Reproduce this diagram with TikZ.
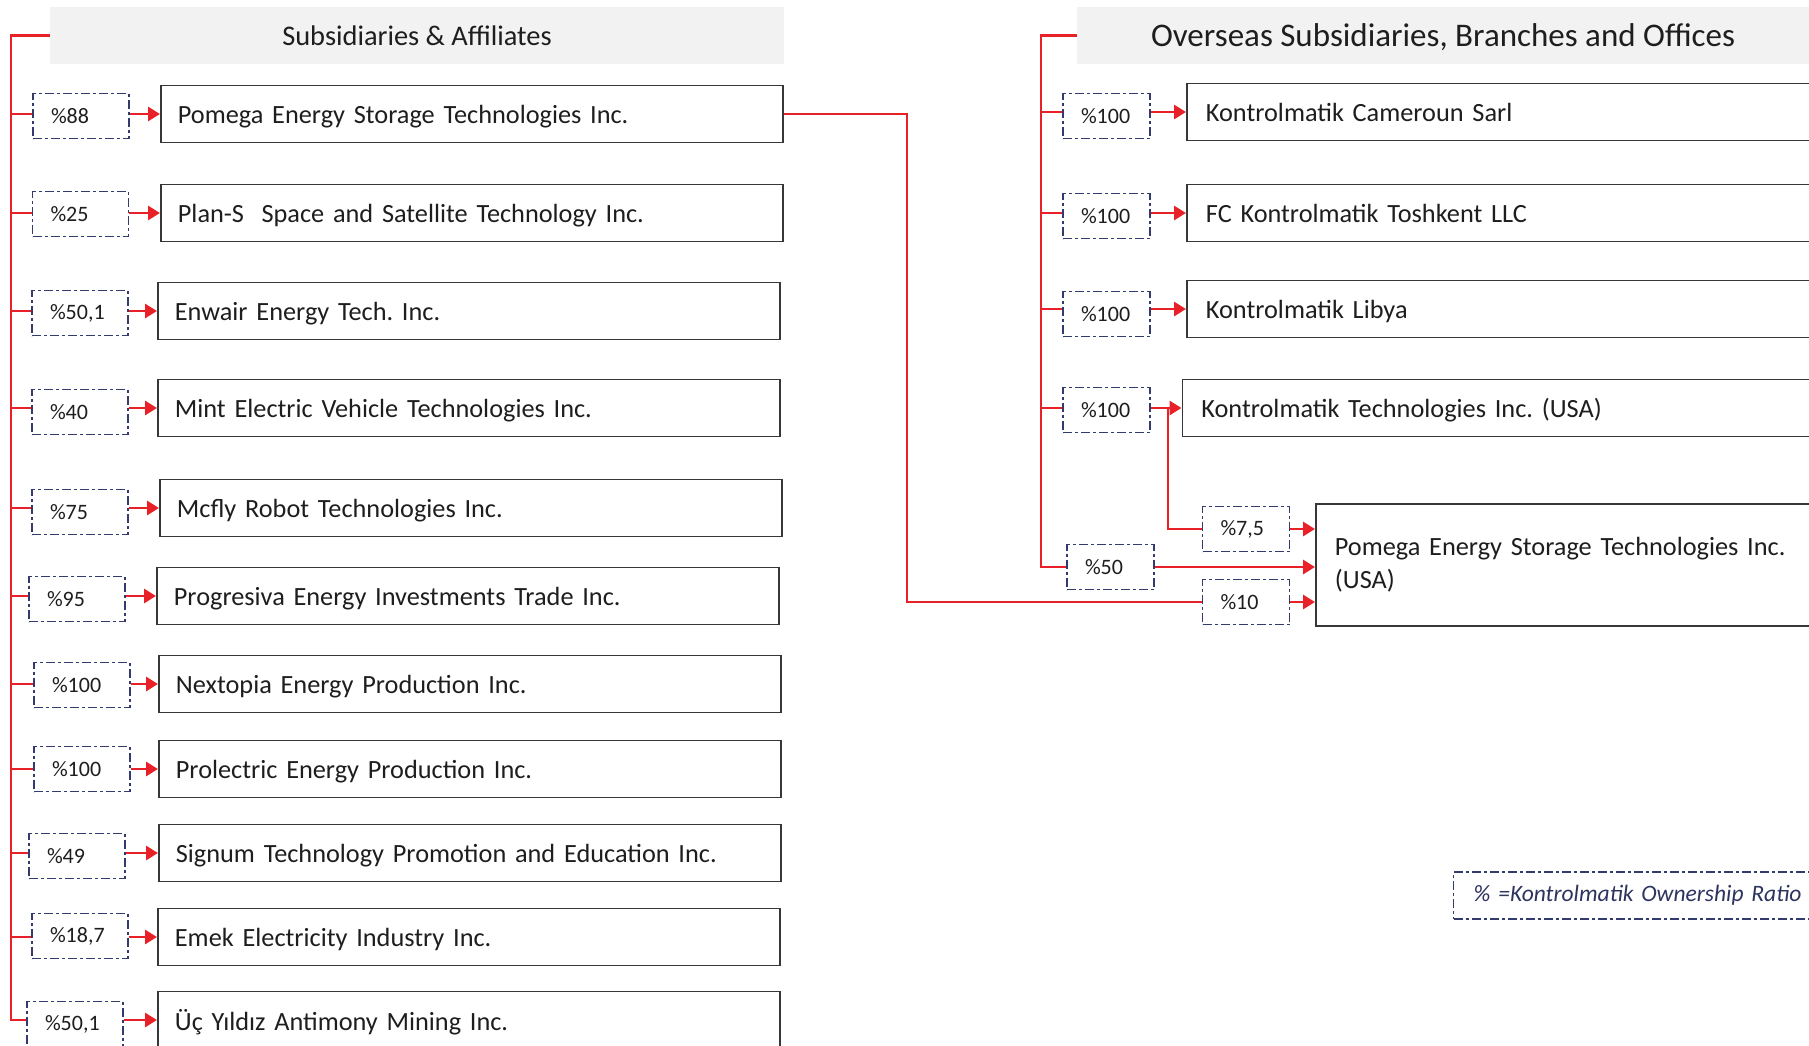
\documentclass[tikz,border=0pt]{standalone}
\usepackage{fontspec}
\setmainfont{Carlito}
\usetikzlibrary{arrows.meta}
\definecolor{kred}{RGB}{232,32,40}
\definecolor{knavy}{RGB}{50,58,110}
\definecolor{klegend}{RGB}{45,52,95}
\definecolor{kgray}{RGB}{242,242,242}
\definecolor{ktext}{RGB}{30,30,30}
\definecolor{kbord}{RGB}{55,55,55}
\frenchspacing
\begin{document}
\begin{tikzpicture}[x=1pt,y=-1pt,
  redline/.style={draw=kred, line width=2.9pt},
  redarrow/.style={draw=kred, line width=2.9pt, -{Triangle[length=12pt,width=14pt]}},
  hdr/.style={fill=kgray, inner sep=0pt, text=ktext, minimum height=57pt},
  comp/.style={draw=kbord, line width=1.8pt, minimum height=57pt, inner xsep=17pt, inner ysep=0pt,
    text width=588pt, align=left, text=ktext, font=\fontsize{26.3}{33}\selectfont, anchor=west},
  onel/.style={text depth=0pt},
  compR/.style={comp, text width=610pt, inner xsep=19pt},
  pct/.style={draw=knavy, line width=1.4pt, dash pattern=on 9pt off 3pt on 3pt off 3pt,
    minimum height=45pt, inner xsep=18pt, inner ysep=0pt, text width=60pt, align=left,
    text=ktext, font=\fontsize{22}{26}\selectfont},
  pctR/.style={pct, text width=51pt},
  legendbox/.style={draw=knavy, line width=1.4pt, dash pattern=on 9pt off 3pt on 3pt off 3pt,
    minimum height=47pt, inner xsep=20pt, inner ysep=0pt, text width=337pt, align=left,
    text=klegend, font=\fontsize{23.5}{28}\selectfont\itshape, anchor=west},
]
\useasboundingbox (0,0) rectangle (1809,1045);
\fill[white] (0,0) rectangle (1809,1045);
\clip (0,0) rectangle (1809,1045);

% ---------- headers ----------
\node[hdr, minimum width=734pt, font=\fontsize{28.4}{34}\selectfont] (hL) at (417,35.5) {Subsidiaries \& Affiliates};
\node[hdr, onel, minimum width=732pt, font=\fontsize{33}{40}\selectfont] (hR) at (1443,35.5) {Overseas Subsidiaries, Branches and Offices};

\coordinate (vL) at (11,35.5);
\coordinate (vR) at (1041,35.5);
\coordinate (jx) at (907,0);
\coordinate (br) at (1168,0);

% ---------- left column ----------
\node[pct] (pL1) at (81,116) {\%88};
\node[comp, onel] (cL1) at (160,114) {Pomega Energy Storage Technologies Inc.};
\node[pct] (pL2) at (80.5,214) {\%25};
\node[comp, onel] (cL2) at (160,213) {Plan-S\ \ Space and Satellite Technology Inc.};
\node[pct] (pL3) at (80,313) {\%50,1};
\node[comp, onel] (cL3) at (157,311) {Enwair Energy Tech. Inc.};
\node[pct] (pL4) at (80,412) {\%40};
\node[comp, onel] (cL4) at (157,408) {Mint Electric Vehicle Technologies Inc.};
\node[pct] (pL5) at (80,512) {\%75};
\node[comp, onel] (cL5) at (159,508) {Mcfly Robot Technologies Inc.};
\node[pct] (pL6) at (77,599) {\%95};
\node[comp, onel] (cL6) at (156,596) {Progresiva Energy Investments Trade Inc.};
\node[pct] (pL7) at (82,685) {\%100};
\node[comp, onel] (cL7) at (158,684) {Nextopia Energy Production Inc.};
\node[pct] (pL8) at (82,769) {\%100};
\node[comp, onel] (cL8) at (158,769) {Prolectric Energy Production Inc.};
\node[pct] (pL9) at (77,856) {\%49};
\node[comp, onel] (cL9) at (158,853) {Signum Technology Promotion and Education Inc.};
\node[pct] (pL10) at (80,936) {\%18,7};
\node[comp, onel] (cL10) at (157,937) {Emek Electricity Industry Inc.};
\node[pct] (pL11) at (75,1024) {\%50,1};
\node[comp, onel] (cL11) at (157,1020) {Üç Yıldız Antimony Mining Inc.};

\draw[redline] (hL.west) -| (vL |- cL11.west) -- (pL11.west |- cL11.west);
\foreach \i in {1,...,10} {
  \draw[redline] (vL |- cL\i.west) -- (pL\i.west |- cL\i.west);
}
\foreach \i in {1,...,11} {
  \draw[redarrow] (pL\i.east |- cL\i.west) -- (cL\i.west);
}

% ---------- right column ----------
\node[pctR] (pR1) at (1106.5,116) {\%100};
\node[compR, onel] (cR1) at (1186,112) {Kontrolmatik Cameroun Sarl};
\node[pctR] (pR2) at (1106.5,216) {\%100};
\node[compR, onel] (cR2) at (1186,213) {FC Kontrolmatik Toshkent LLC};
\node[pctR] (pR3) at (1106.5,314) {\%100};
\node[compR, onel] (cR3) at (1186,309) {Kontrolmatik Libya};
\node[pctR] (pR4) at (1106.5,410) {\%100};
\node[compR, onel] (cR4) at (1181.5,408) {Kontrolmatik Technologies Inc. (USA)};

\node[compR, minimum height=122pt, text width=600pt] (cUSA) at (1315,565)
  {Pomega Energy Storage Technologies Inc.\\(USA)};
\node[pctR] (p75) at (1246,529) {\%7,5};
\node[pctR] (p50) at (1110.5,567) {\%50};
\node[pctR] (p10) at (1246,602) {\%10};

\draw[redline] (hR.west) -| (vR |- p50.west) -- (p50.west);
\foreach \i in {1,...,4} {
  \draw[redline] (vR |- cR\i.west) -- (pR\i.west |- cR\i.west);
  \draw[redarrow] (pR\i.east |- cR\i.west) -- (cR\i.west);
}
\draw[redline] (br |- cR4.west) |- (p75.west);
\draw[redarrow] (p75.east) -- (p75.east -| cUSA.west);
\draw[redarrow] (p50.east) -- (p50.east -| cUSA.west);
\draw[redline] (cL1.east) -| (jx |- p10.west) -- (p10.west);
\draw[redarrow] (p10.east) -- (p10.east -| cUSA.west);

% ---------- legend ----------
\node[legendbox] (lg) at (1453,895.5) {\% =Kontrolmatik Ownership Ratio};
\end{tikzpicture}
\end{document}
